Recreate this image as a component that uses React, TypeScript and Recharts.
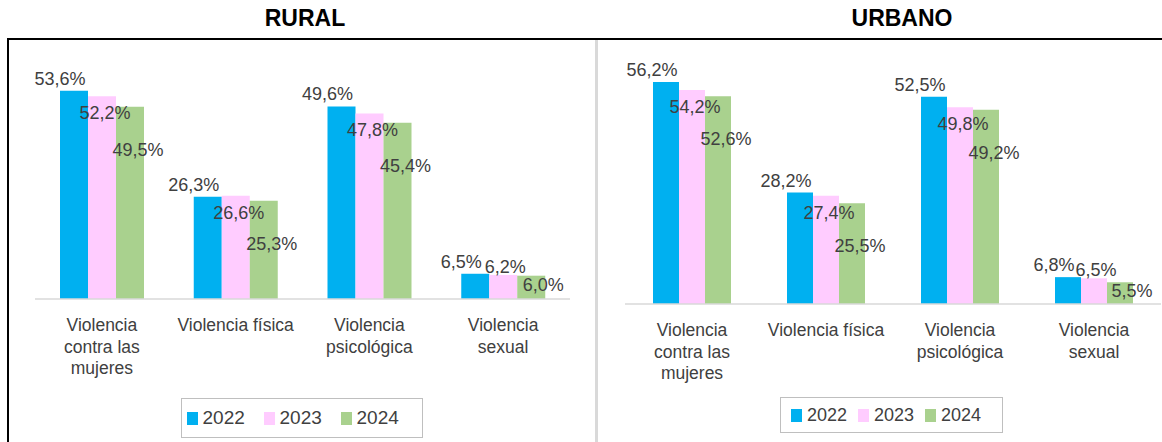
import { BarChart, Bar, XAxis, YAxis, Legend } from "recharts";

// Violencia contra las mujeres, rural vs urbano (%)
const categories = [
  "Violencia\ncontra las\nmujeres",
  "Violencia física",
  "Violencia\npsicológica",
  "Violencia\nsexual",
];
const years = ["2022", "2023", "2024"];
const rural2022 = [53.6, 26.3, 49.6, 6.5];
const rural2023 = [52.2, 26.6, 47.8, 6.2];
const rural2024 = [49.5, 25.3, 45.4, 6.0];
const urbano2022 = [56.2, 28.2, 52.5, 6.8];
const urbano2023 = [54.2, 27.4, 49.8, 6.5];
const urbano2024 = [52.6, 25.5, 49.2, 5.5];

const COLORS = ["#00B0F0", "#FFCCFF", "#A9D18E"];
const TEXT = "#404040";
const FONT = "'Liberation Sans', Arial, sans-serif";

const buildRows = (a: number[], b: number[], c: number[]) =>
  categories.map((name, i) => ({ name, y2022: a[i], y2023: b[i], y2024: c[i] }));

const ruralData = buildRows(rural2022, rural2023, rural2024);
const urbanoData = buildRows(urbano2022, urbano2023, urbano2024);

const fmt = (v: number) => v.toFixed(1).replace(".", ",") + "%";

// Excel-like manual label placement, one rule per series
const makeLabel = (series: number) => (props: any) => {
  const { x, y, width, height, value } = props;
  const cx = x + width / 2;
  let dx = 0;
  let dy = 0;
  if (series === 0) {
    dx = -14;
    dy = -12;
  } else if (series === 1) {
    if (height > 40) { dx = 3; dy = 17; } else { dx = 2; dy = -8; }
  } else {
    if (height > 40) { dx = 8; dy = 43; } else { dx = 12; dy = 9; }
  }
  return (
    <text
      x={cx + dx}
      y={y + dy}
      textAnchor="middle"
      dominantBaseline="central"
      fill={TEXT}
      fontSize={18}
      fontFamily={FONT}
    >
      {fmt(value)}
    </text>
  );
};

const CategoryTick = (props: any) => {
  const { x, y, payload } = props;
  const lines = String(payload.value).split("\n");
  return (
    <g transform={`translate(${x},${y})`}>
      {lines.map((ln, i) => (
        <text
          key={i}
          x={0}
          y={18 + i * 21.5}
          textAnchor="middle"
          dominantBaseline="central"
          fill={TEXT}
          fontSize={17.5}
          fontFamily={FONT}
        >
          {ln}
        </text>
      ))}
    </g>
  );
};

const makeLegend = (w: number, h: number, step: number, fs: number) => (props: any) => {
  const { payload } = props;
  return (
    <div
      style={{
        width: w,
        height: h,
        boxSizing: "border-box",
        border: "1.5px solid #bfbfbf",
        background: "#fff",
        display: "flex",
        alignItems: "center",
        justifyContent: "center",
        fontFamily: FONT,
        fontSize: fs,
        color: TEXT,
      }}
    >
      {payload.map((p: any, i: number) => (
        <div key={i} style={{ display: "flex", alignItems: "center", width: step }}>
          <span style={{ display: "inline-block", width: 11, height: 13, background: p.color, marginRight: 5 }} />
          <span>{p.value}</span>
        </div>
      ))}
    </div>
  );
};

type PanelProps = {
  data: any[];
  width: number;
  height: number;
  margin: any;
  barSize: number;
  legendPos: { left: number; top: number; w: number; h: number; step: number; fs: number };
};

const Panel = ({ data, width, height, margin, barSize, legendPos }: PanelProps) => (
  <BarChart width={width} height={height} data={data} margin={margin} barGap={0} barSize={barSize}>
    <XAxis
      dataKey="name"
      height={60}
      tickLine={false}
      axisLine={{ stroke: "#d9d9d9", strokeWidth: 1.5 }}
      tick={<CategoryTick />}
      interval={0}
    />
    <YAxis hide domain={[0, 60]} />
    <Legend
      verticalAlign="middle"
      layout="horizontal"
      wrapperStyle={{ left: legendPos.left, top: legendPos.top, width: legendPos.w }}
      content={makeLegend(legendPos.w, legendPos.h, legendPos.step, legendPos.fs)}
    />
    {years.map((yr, i) => (
      <Bar
        key={yr}
        dataKey={`y${yr}`}
        name={yr}
        fill={COLORS[i]}
        isAnimationActive={false}
        label={makeLabel(i)}
      />
    ))}
  </BarChart>
);

export default function App() {
  return (
    <div
      style={{
        position: "absolute",
        left: 0,
        top: 0,
        width: 1162,
        height: 442,
        background: "#fff",
        overflow: "hidden",
      }}
    >
      <div
        style={{
          position: "absolute",
          left: 205,
          width: 200,
          top: 5,
          textAlign: "center",
          fontFamily: FONT,
          fontWeight: 700,
          fontSize: 23,
          color: "#000",
        }}
      >
        RURAL
      </div>
      <div
        style={{
          position: "absolute",
          left: 802,
          width: 200,
          top: 5,
          textAlign: "center",
          fontFamily: FONT,
          fontWeight: 700,
          fontSize: 23,
          color: "#000",
        }}
      >
        URBANO
      </div>
      {/* frame lines */}
      <div style={{ position: "absolute", left: 7, top: 38, width: 1155, height: 2, background: "#000" }} />
      <div style={{ position: "absolute", left: 7, top: 38, width: 2, height: 404, background: "#000" }} />
      <div style={{ position: "absolute", left: 595, top: 40, width: 3, height: 402, background: "#d9d9d9" }} />

      <div style={{ position: "absolute", left: 8, top: 40 }}>
        <Panel
          data={ruralData}
          width={588}
          height={402}
          margin={{ top: 26, right: 26, left: 27, bottom: 83 }}
          barSize={28}
          legendPos={{ left: 173, top: 358, w: 242, h: 40, step: 77, fs: 19 }}
        />
      </div>
      <div style={{ position: "absolute", left: 598, top: 40 }}>
        <Panel
          data={urbanoData}
          width={564}
          height={402}
          margin={{ top: 27, right: 1, left: 27, bottom: 78 }}
          barSize={26}
          legendPos={{ left: 182, top: 357, w: 223, h: 36, step: 67, fs: 18 }}
        />
      </div>
    </div>
  );
}
